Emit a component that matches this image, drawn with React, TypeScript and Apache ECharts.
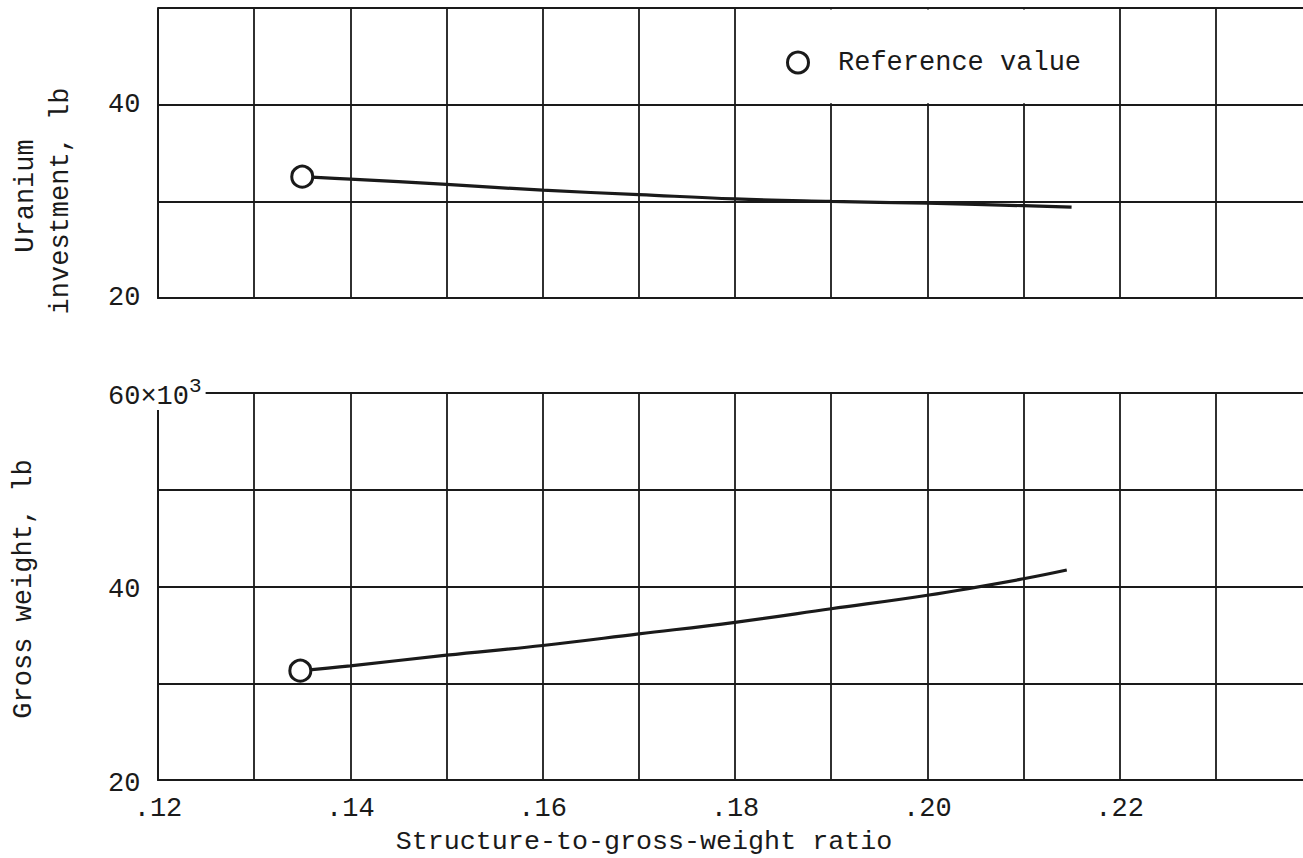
import React, { useEffect, useRef } from 'react';
import * as echarts from 'echarts';

// ---- data ----
const ratioTickLabels = [0.12, 0.14, 0.16, 0.18, 0.2, 0.22];
const uraniumTickLabels = [20, 40];
const grossTickLabels = [20, 40, 60];

const uraniumRatio = [0.135, 0.14, 0.15, 0.16, 0.17, 0.18, 0.19, 0.2, 0.21, 0.215];
const uraniumLb = [32.55, 32.3, 31.75, 31.15, 30.7, 30.25, 30.0, 29.8, 29.55, 29.4];

const grossRatio = [0.1348, 0.14, 0.15, 0.16, 0.17, 0.18, 0.19, 0.2, 0.21, 0.2145];
const grossKlb = [31.3, 31.8, 32.9, 33.9, 35.1, 36.3, 37.7, 39.1, 40.8, 41.7];

const referenceUranium = [0.135, 32.55];
const referenceGross = [0.1348, 31.3];

// legend panel occupies this cell block of the upper chart (ratio, lb)
const legendPanelRatio = [0.18, 0.22];
const legendPanelLb = [40, 50];

const FONT = '"Liberation Mono", "Courier New", monospace';
const INK = '#1a1a1a';
const GRID_W = 1.8;

function pairs(xs: number[], ys: number[]) {
  return xs.map((x, i) => [x, ys[i]]);
}

function xAxisBase(gridIndex: number, showLabels: boolean) {
  return {
    type: 'value',
    gridIndex,
    min: 0.12,
    max: 0.24,
    interval: 0.01,
    axisTick: { show: false },
    axisLine: { show: true, onZero: false, lineStyle: { color: INK, width: 2 } },
    splitLine: { show: true, lineStyle: { color: INK, width: GRID_W } },
    axisLabel: {
      show: showLabels,
      margin: 19,
      fontFamily: FONT,
      fontSize: 27,
      lineHeight: 20,
      color: INK,
      formatter: (v: number) =>
        ratioTickLabels.some((t) => Math.abs(t - v) < 1e-6) ? '.' + Math.round(v * 100) : '',
    },
  };
}

function nameText(id: string, text: string, x: number, y: number, rotate: boolean, size: number) {
  return {
    id,
    type: 'text',
    x,
    y,
    rotation: rotate ? Math.PI / 2 : 0,
    z: 5,
    style: {
      text,
      fontFamily: FONT,
      fontSize: size,
      lineHeight: 22,
      fill: INK,
      align: 'center',
      verticalAlign: 'middle',
    },
  };
}

export default function App() {
  const ref = useRef<HTMLDivElement>(null);

  useEffect(() => {
    if (!ref.current) return;
    const chart = echarts.init(ref.current, null, { renderer: 'svg' });

    const option: any = {
      animation: false,
      backgroundColor: '#fff',
      textStyle: { fontFamily: FONT },
      grid: [
        { left: 158, top: 8, width: 1154, height: 290, outerBoundsMode: 'none' },
        { left: 158, top: 393, width: 1154, height: 387, outerBoundsMode: 'none' },
      ],
      legend: {
        data: ['Reference value'],
        left: 786,
        top: 49,
        padding: 0,
        z: 6,
        icon: 'circle',
        itemWidth: 70,
        itemHeight: 21,
        selectedMode: false,
        itemStyle: { color: '#fff', borderColor: INK, borderWidth: 3 },
        textStyle: { fontFamily: FONT, fontSize: 27, color: INK },
      },
      xAxis: [xAxisBase(0, false), xAxisBase(1, true)],
      yAxis: [
        {
          type: 'value',
          gridIndex: 0,
          min: 20,
          max: 50,
          interval: 10,
          axisTick: { show: false },
          axisLine: { show: true, lineStyle: { color: INK, width: 2 } },
          splitLine: { show: true, lineStyle: { color: INK, width: GRID_W } },
          axisLabel: {
            align: 'left',
            margin: 50,
            fontFamily: FONT,
            fontSize: 27,
            color: INK,
            formatter: (v: number) => (uraniumTickLabels.includes(v) ? String(v) : ''),
          },
        },
        {
          type: 'value',
          gridIndex: 1,
          min: 20,
          max: 60,
          interval: 10,
          axisTick: { show: false },
          axisLine: { show: true, lineStyle: { color: INK, width: 2 } },
          splitLine: { show: true, lineStyle: { color: INK, width: GRID_W } },
          axisLabel: {
            align: 'left',
            margin: 50,
            fontFamily: FONT,
            fontSize: 27,
            color: INK,
            backgroundColor: '#fff',
            padding: [0, 4, 0, 0],
            formatter: (v: number) => {
              if (!grossTickLabels.includes(v)) return '';
              if (v === 60) return '{m|60×10}{s|3}';
              return '{m|' + v + '}';
            },
            rich: {
              m: { fontFamily: FONT, fontSize: 27, color: INK, lineHeight: 34, verticalAlign: 'bottom' },
              s: { fontFamily: FONT, fontSize: 21, color: INK, lineHeight: 18, verticalAlign: 'top' },
            },
          },
        },
      ],
      graphic: [
        nameText('n1', 'Uranium', 26, 196, true, 27),
        nameText('n2', 'investment, lb', 61, 201, true, 27),
        nameText('n3', 'Gross weight, lb', 24, 589, true, 27),
        nameText('n4', 'Structure-to-gross-weight ratio', 644, 842, false, 26.7),
      ],
      series: [
        {
          type: 'custom',
          name: 'legendPanel',
          xAxisIndex: 0,
          yAxisIndex: 0,
          silent: true,
          clip: false,
          z: 2,
          encode: { x: [0, 1], y: [2, 3] },
          data: [[legendPanelRatio[0], legendPanelRatio[1], legendPanelLb[0], legendPanelLb[1]]],
          renderItem: (_params: any, api: any) => {
            const p1 = api.coord([api.value(0), api.value(3)]);
            const p2 = api.coord([api.value(1), api.value(2)]);
            const inset = 1.4;
            return {
              type: 'rect',
              shape: {
                x: p1[0] + inset,
                y: p1[1] + inset,
                width: p2[0] - p1[0] - 2 * inset,
                height: p2[1] - p1[1] - 2 * inset,
              },
              style: { fill: '#fff', stroke: null },
            };
          },
        },
        {
          type: 'line',
          name: 'Uranium investment',
          xAxisIndex: 0,
          yAxisIndex: 0,
          data: pairs(uraniumRatio, uraniumLb),
          smooth: 0.4,
          showSymbol: false,
          symbol: 'none',
          lineStyle: { color: INK, width: 3.2 },
          z: 3,
        },
        {
          type: 'line',
          name: 'Gross weight',
          xAxisIndex: 1,
          yAxisIndex: 1,
          data: pairs(grossRatio, grossKlb),
          smooth: 0.4,
          showSymbol: false,
          symbol: 'none',
          lineStyle: { color: INK, width: 3.2 },
          z: 3,
        },
        {
          type: 'scatter',
          name: 'Reference value',
          xAxisIndex: 0,
          yAxisIndex: 0,
          data: [referenceUranium],
          symbol: 'circle',
          symbolSize: 21,
          itemStyle: { color: '#fff', borderColor: INK, borderWidth: 3, opacity: 1 },
          z: 5,
        },
        {
          type: 'scatter',
          name: 'Reference value',
          xAxisIndex: 1,
          yAxisIndex: 1,
          data: [referenceGross],
          symbol: 'circle',
          symbolSize: 21,
          itemStyle: { color: '#fff', borderColor: INK, borderWidth: 3, opacity: 1 },
          z: 5,
        },
      ],
    };

    chart.setOption(option);
    return () => chart.dispose();
  }, []);

  return (
    <div
      style={{
        position: 'fixed',
        left: 0,
        top: 0,
        width: 1303,
        height: 858,
        overflow: 'hidden',
        background: '#fff',
      }}
    >
      <div ref={ref} style={{ width: 1330, height: 858 }} />
    </div>
  );
}
